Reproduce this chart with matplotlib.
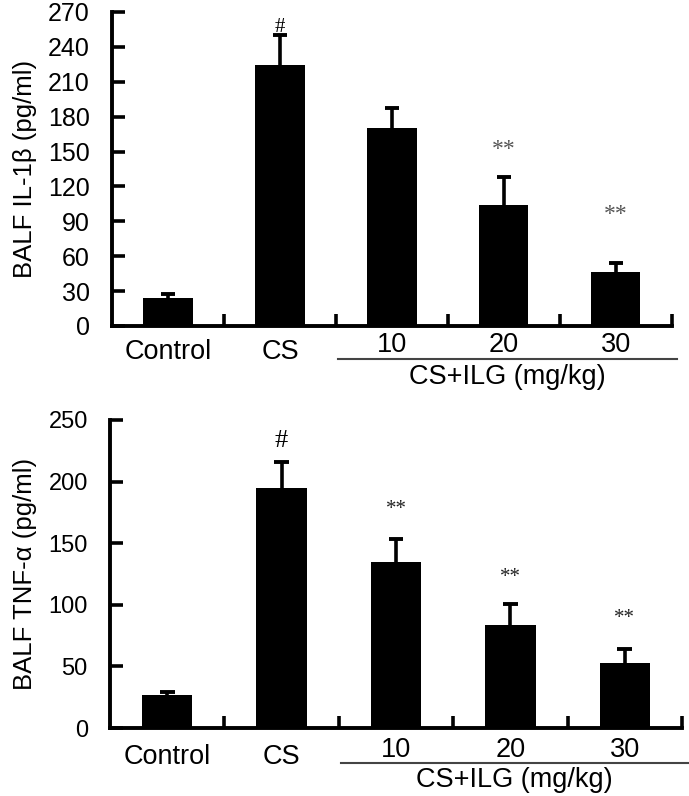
import matplotlib
matplotlib.use("Agg")
import matplotlib.pyplot as plt
import matplotlib.transforms as mtransforms

plt.rcParams['font.family'] = ['Liberation Sans', 'DejaVu Sans']

groups = ["Control", "CS", "10", "20", "30"]
il1b_mean = [24, 224, 170, 104, 46]
il1b_err = [3.5, 26, 17, 24, 8]
il1b_marks = ["", "#", "", "**", "**"]
il1b_mark_y = [None, 257, None, 152, 96]

tnf_mean = [27, 195, 135, 84, 53]
tnf_err = [2, 21, 18, 17, 11]
tnf_marks = ["", "#", "**", "**", "**"]
tnf_mark_y = [None, 233, 177, 122, 89]

fig = plt.figure(figsize=(6.89, 7.96), dpi=100)
ax1 = fig.add_axes([0.1626, 0.5905, 0.8124, 0.3945])
ax2 = fig.add_axes([0.1597, 0.0854, 0.8301, 0.3870])


def draw(ax, means, errs, marks, mark_y, ymax, ystep, ylabel, tick_fs, mark_fs,
         y_ctrl, y_dose, y_line, y_group, hash_fs, mark_col):
    x = list(range(len(groups)))
    ax.bar(x, means, width=0.44, color="black", zorder=2)
    tops = [m + e for m, e in zip(means, errs)]
    ax.vlines(x, means, tops, color="black", lw=2.6, zorder=3)
    ax.hlines(tops, [xi - 0.065 for xi in x], [xi + 0.065 for xi in x],
              color="black", lw=2.8, zorder=3)
    for xi, m, my in zip(x, marks, mark_y):
        if m:
            fs = hash_fs if m == "#" else mark_fs
            col = "black" if m == "#" else mark_col
            ax.text(xi, my, m, ha="center", va="center", fontsize=fs, color=col,
                    family=["Liberation Serif", "DejaVu Serif"])
    ax.set_xlim(-0.5, 4.5)
    ax.set_ylim(0, ymax)
    ax.set_yticks(list(range(0, ymax + 1, ystep)))
    ax.set_xticks([0.5, 1.5, 2.5, 3.5, 4.5])
    ax.set_xticklabels([])
    ax.tick_params(axis="both", direction="in", length=9, width=2.6, labelsize=tick_fs)
    ax.tick_params(axis="y", pad=16)
    for s in ["top", "right"]:
        ax.spines[s].set_visible(False)
    for s in ["left", "bottom"]:
        ax.spines[s].set_linewidth(2.8)
    ax.set_ylabel(ylabel, fontsize=18.5, labelpad=8)
    trans = mtransforms.blended_transform_factory(ax.transData, ax.transAxes)
    for i, g in enumerate(groups):
        yy = y_ctrl if i < 2 else y_dose
        ax.text(i, yy, g, ha="center", va="center", fontsize=19.5, transform=trans)
    ax.plot([1.52, 4.55], [y_line, y_line], color="#444444", lw=1.5,
            transform=trans, clip_on=False)
    ax.text(3.03, y_group, "CS+ILG (mg/kg)", ha="center", va="center", fontsize=19.5,
            transform=trans)


draw(ax1, il1b_mean, il1b_err, il1b_marks, il1b_mark_y, 270, 30,
     "BALF IL-1β (pg/ml)", 18, 17, -0.083, -0.06, -0.105, -0.162, 15, "#555555")
draw(ax2, tnf_mean, tnf_err, tnf_marks, tnf_mark_y, 250, 50,
     "BALF TNF-α (pg/ml)", 17, 15, -0.094, -0.071, -0.114, -0.169, 19, "#222222")

fig.savefig("out.png", dpi=100)
